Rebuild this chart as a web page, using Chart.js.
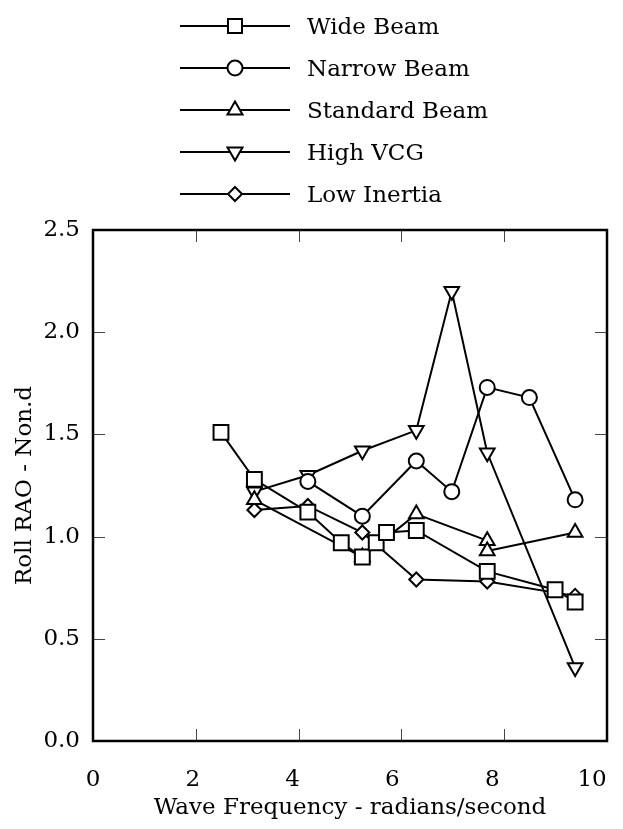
<!DOCTYPE html>
<html>
<head>
<meta charset="utf-8">
<script src="https://cdn.jsdelivr.net/npm/chart.js@4.4.1/dist/chart.umd.min.js"></script>
<style>
  html, body { margin: 0; padding: 0; background: #fff; }
  #wrap { position: relative; width: 623px; height: 829px; }
  #chart { position: absolute; left: 0; top: 0; }
  .leg-row { position: absolute; left: 180px; height: 28px; width: 400px; }
  .leg-row svg { position: absolute; left: 0; top: 0; }
  .leg-row span {
    position: absolute; left: 127px; top: 0; line-height: 28px;
    font-family: "DejaVu Serif", serif; font-size: 23px; color: #000; white-space: nowrap;
  }
</style>
</head>
<body>
<div id="wrap">
  <canvas id="chart" width="623" height="829"></canvas>
  <div id="legend"></div>
</div>
<script>
// series names + marker shapes
const seriesNames = ["Wide Beam", "Narrow Beam", "Standard Beam", "High VCG", "Low Inertia"];

// (wave frequency rad/s, roll RAO non-dim)
const wideX = [2.49, 3.14, 4.18, 4.83, 5.24, 5.51, 5.71, 6.29, 7.67, 8.99, 9.38];
const wideY = [1.51, 1.28, 1.12, 0.97, 0.90, 0.97, 1.02, 1.03, 0.83, 0.74, 0.68];

const narrowX = [4.18, 5.24, 6.29, 6.98, 7.67, 8.49, 9.38];
const narrowY = [1.27, 1.10, 1.37, 1.22, 1.73, 1.68, 1.18];

const standardX = [3.14, 5.24, 6.29, 7.67, 7.67, 9.38];
const standardY = [1.18, 0.90, 1.11, 0.98, 0.93, 1.02];

const highX = [3.14, 4.18, 5.24, 6.29, 6.98, 7.67, 9.38];
const highY = [1.22, 1.30, 1.42, 1.52, 2.20, 1.41, 0.36];

const lowX = [3.14, 4.18, 5.24, 6.29, 7.67, 9.38];
const lowY = [1.13, 1.15, 1.02, 0.79, 0.78, 0.71];

const xTicks = [0, 2, 4, 6, 8, 10];
const yTicks = [0.0, 0.5, 1.0, 1.5, 2.0, 2.5];

const FONT = "'DejaVu Serif', serif";

function pts(xs, ys) {
  return xs.map((x, i) => ({ x: x, y: ys[i] }));
}

function series(label, xs, ys, style, radius, rot) {
  return {
    label: label,
    data: pts(xs, ys),
    borderColor: "#000",
    borderWidth: 2,
    backgroundColor: "#fff",
    pointStyle: style,
    pointRadius: radius,
    pointHoverRadius: radius,
    pointRotation: rot || 0,
    pointBorderColor: "#000",
    pointBackgroundColor: "#fff",
    pointBorderWidth: 2,
    tension: 0,
    fill: false,
    xAxisID: "x",
    yAxisID: "y",
  };
}

// box round the plot + short inward tick marks on all four sides
const framePlugin = {
  id: "frame",
  afterDatasetsDraw(chart) {
    const { ctx, chartArea: a, scales } = chart;
    ctx.save();
    ctx.strokeStyle = "#444";
    ctx.lineWidth = 1;
    const len = 12;
    yTicks.forEach((v) => {
      if (v === yTicks[0] || v === yTicks[yTicks.length - 1]) return;
      const py = Math.round(scales.y.getPixelForValue(v)) + 0.5;
      ctx.beginPath();
      ctx.moveTo(a.left, py); ctx.lineTo(a.left + len, py);
      ctx.moveTo(a.right, py); ctx.lineTo(a.right - len, py);
      ctx.stroke();
    });
    xTicks.forEach((v) => {
      if (v === xTicks[0] || v === xTicks[xTicks.length - 1]) return;
      const px = Math.round(scales.x.getPixelForValue(v)) + 0.5;
      ctx.beginPath();
      ctx.moveTo(px, a.top); ctx.lineTo(px, a.top + len);
      ctx.moveTo(px, a.bottom); ctx.lineTo(px, a.bottom - len);
      ctx.stroke();
    });
    ctx.strokeStyle = "#000";
    ctx.lineWidth = 2.5;
    ctx.strokeRect(a.left, a.top, a.right - a.left, a.bottom - a.top);
    ctx.restore();
  },
};

const chart = new Chart(document.getElementById("chart"), {
  type: "line",
  data: {
    datasets: [
      series(seriesNames[0], wideX, wideY, "rect", 10.5),
      series(seriesNames[1], narrowX, narrowY, "circle", 7.5),
      series(seriesNames[2], standardX, standardY, "triangle", 8.5),
      series(seriesNames[3], highX, highY, "triangle", 8.5, 180),
      series(seriesNames[4], lowX, lowY, "rectRot", 7),
    ],
  },
  options: {
    responsive: false,
    animation: false,
    layout: { padding: { top: 230, right: 16, left: 0, bottom: 0 } },
    plugins: {
      legend: { display: false },
      tooltip: { enabled: false },
    },
    scales: {
      x: {
        type: "linear",
        display: false,
        min: 0,
        max: 10,
        ticks: { stepSize: 2 },
      },
      // labels only; the printed numbers sit a little left of the tick marks
      xl: {
        type: "linear",
        position: "bottom",
        min: 0,
        max: 10.3,
        grid: { display: false, drawTicks: false },
        border: { display: false },
        ticks: {
          stepSize: 2,
          includeBounds: false,
          autoSkip: false,
          padding: 25,
          color: "#000",
          font: { family: FONT, size: 23 },
        },
        title: {
          display: true,
          text: "Wave Frequency - radians/second",
          color: "#000",
          font: { family: FONT, size: 23 },
          padding: { top: 0, bottom: 7 },
        },
        afterFit(scale) {
          scale.height = 88;
          scale.paddingLeft = 0;
          scale.paddingRight = 0;
        },
      },
      y: {
        type: "linear",
        min: 0,
        max: 2.5,
        grid: { display: false, drawTicks: false },
        border: { display: false },
        afterBuildTicks(scale) { scale.ticks = yTicks.map((v) => ({ value: v })); },
        ticks: {
          padding: 13,
          color: "#000",
          font: { family: FONT, size: 23 },
          callback: (v) => Number(v).toFixed(1),
        },
        title: {
          display: true,
          text: "Roll RAO - Non.d",
          color: "#000",
          font: { family: FONT, size: 23 },
          padding: { top: 11, bottom: 0 },
        },
        afterFit(scale) {
          scale.width = 93;
          scale.paddingTop = 0;
          scale.paddingBottom = 0;
        },
      },
    },
  },
  plugins: [framePlugin],
});

// legend: line with marker, then the name
const markers = [
  '<rect x="48" y="7" width="14" height="14" fill="#fff" stroke="#000" stroke-width="2"/>',
  '<circle cx="55" cy="14" r="7.5" fill="#fff" stroke="#000" stroke-width="2"/>',
  '<polygon points="55,5.5 47.5,18.5 62.5,18.5" fill="#fff" stroke="#000" stroke-width="2"/>',
  '<polygon points="55,22.5 47.5,9.5 62.5,9.5" fill="#fff" stroke="#000" stroke-width="2"/>',
  '<polygon points="55,7 62,14 55,21 48,14" fill="#fff" stroke="#000" stroke-width="2"/>',
];

const legend = document.getElementById("legend");
seriesNames.forEach((name, i) => {
  const row = document.createElement("div");
  row.className = "leg-row";
  row.style.top = (12 + i * 42) + "px";
  row.innerHTML =
    '<svg width="112" height="28"><line x1="0" y1="14" x2="110" y2="14" stroke="#000" stroke-width="2"/>' +
    markers[i] + "</svg><span>" + name + "</span>";
  legend.appendChild(row);
});
</script>
</body>
</html>
